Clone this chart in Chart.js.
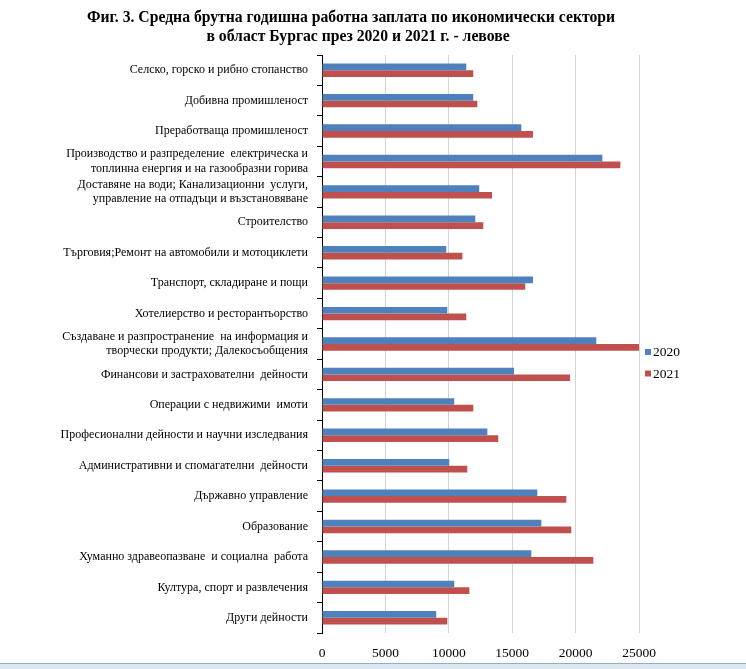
<!DOCTYPE html>
<html><head><meta charset="utf-8">
<script src="https://cdn.jsdelivr.net/npm/chart.js@4.4.1/dist/chart.umd.min.js"></script>
<style>html,body{margin:0;padding:0;background:#fff;overflow:hidden}#wrap{width:746px;height:669px;position:relative}</style>
</head><body><div id="wrap"><canvas id="c" width="746" height="669"></canvas></div>
<script>
const titleLines = [
  'Фиг. 3. Средна брутна годишна работна заплата по икономически сектори',
  'в област Бургас през 2020 и 2021 г. - левове'
];
const categories = [
  'Селско, горско и рибно стопанство',
  'Добивна промишленост',
  'Преработваща промишленост',
  ['Производство и разпределение  електрическа и', 'топлинна енергия и на газообразни горива'],
  ['Доставяне на води; Канализационни  услуги,', 'управление на отпадъци и възстановяване'],
  'Строителство',
  'Търговия;Ремонт на автомобили и мотоциклети',
  'Транспорт, складиране и пощи',
  'Хотелиерство и ресторантьорство',
  ['Създаване и разпространение  на информация и', 'творчески продукти; Далекосъобщения'],
  'Финансови и застрахователни  дейности',
  'Операции с недвижими  имоти',
  'Професионални дейности и научни изследвания',
  'Административни и спомагателни  дейности',
  'Държавно управление',
  'Образование',
  'Хуманно здравеопазване  и социална  работа',
  'Култура, спорт и развлечения',
  'Други дейности'
];
const seriesNames = ['2020', '2021'];
const values2020 = [11380, 11930, 15720, 22110, 12400, 12090, 9800, 16640, 9880, 21630, 15140, 10430, 13040, 10040, 16980, 17300, 16510, 10430, 9010];
const values2021 = [11930, 12250, 16640, 23530, 13410, 12720, 11070, 16030, 11380, 25100, 19560, 11930, 13900, 11460, 19270, 19660, 21400, 11620, 9880];
const xTicks = [0, 5000, 10000, 15000, 20000, 25000];
const colors = ['#4F81BD', '#C0504D'];

const serif = '"Liberation Serif", "Times New Roman", serif';

const decor = {
  id: 'decor',
  afterDraw(chart) {
    const ctx = chart.ctx;
    ctx.save();
    // title
    ctx.fillStyle = '#000';
    ctx.font = 'bold 15.7px ' + serif;
    ctx.textAlign = 'center';
    ctx.textBaseline = 'middle';
    ctx.fillText(titleLines[0], 351, 18);
    ctx.fillText(titleLines[1], 358, 37);
    // legend
    ctx.font = '13.5px ' + serif;
    ctx.textAlign = 'left';
    chart.data.datasets.forEach((ds, i) => {
      const y = 352 + i * 21.5;
      ctx.fillStyle = ds.backgroundColor;
      ctx.fillRect(645, y - 3, 6, 6);
      ctx.fillStyle = '#000';
      ctx.fillText(ds.label, 653, y + 0.5);
    });
    // window frame strip at bottom
    ctx.fillStyle = '#dde7f4';
    ctx.fillRect(0, 664, 746, 5);
    ctx.fillStyle = '#9aaac2';
    ctx.fillRect(0, 663, 746, 1);
    ctx.restore();
  }
};

new Chart(document.getElementById('c'), {
  type: 'bar',
  data: {
    labels: categories,
    datasets: [
      { label: seriesNames[0], data: values2020, backgroundColor: colors[0], barPercentage: 1, categoryPercentage: 0.44 },
      { label: seriesNames[1], data: values2021, backgroundColor: colors[1], barPercentage: 1, categoryPercentage: 0.44 }
    ]
  },
  options: {
    indexAxis: 'y',
    responsive: false,
    animation: false,
    devicePixelRatio: 1,
    layout: { padding: { top: 55, right: 107, bottom: 0, left: 0 } },
    plugins: { legend: { display: false }, title: { display: false }, tooltip: { enabled: false } },
    scales: {
      x: {
        min: 0, max: 25000,
        afterBuildTicks: (s) => { s.ticks = xTicks.map(v => ({ value: v })); },
        afterFit: (s) => { s.height = 36; },
        grid: { color: '#d4d4d4', lineWidth: 1, drawTicks: false },
        border: { display: false },
        ticks: { color: '#000', font: { family: serif, size: 13.5 }, padding: 12, maxRotation: 0,
                 callback: (v) => String(v) }
      },
      y: {
        afterFit: (s) => { s.width = 322; },
        grid: { display: true, drawOnChartArea: false, drawTicks: true, tickLength: 5, color: '#000', offset: true },
        border: { display: true, color: '#000', width: 1 },
        ticks: { color: '#000', font: { family: serif, size: 12, lineHeight: 1.2 }, padding: 9, autoSkip: false }
      }
    }
  },
  plugins: [decor]
});
</script>
</body></html>
